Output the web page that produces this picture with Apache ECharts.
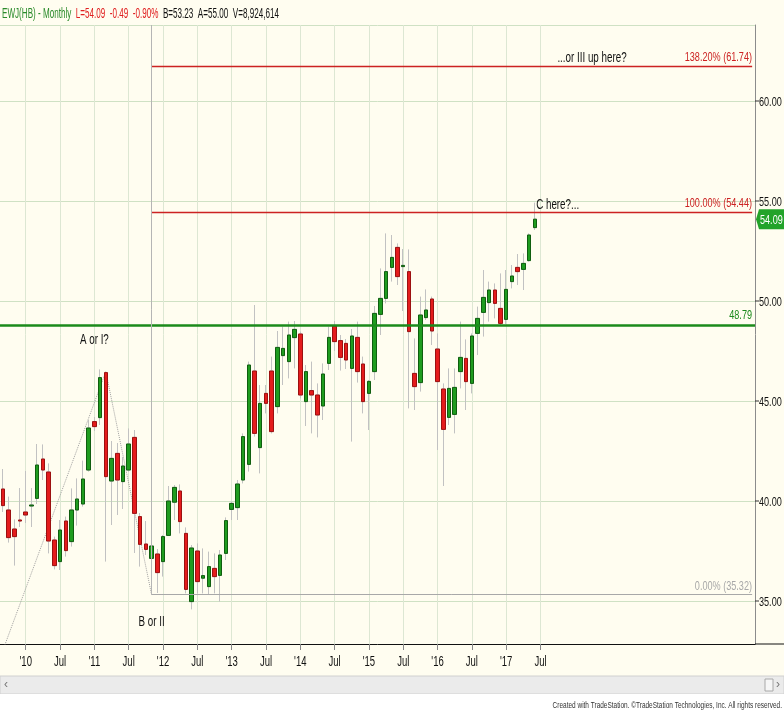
<!DOCTYPE html>
<html><head><meta charset="utf-8">
<script src="https://cdn.jsdelivr.net/npm/echarts@6/dist/echarts.min.js"></script>
<style>html,body{margin:0;padding:0;background:#fffdf0;}#c{width:784px;height:713px;}</style>
</head><body><div id="c"></div>
<script>
const FONT = "'Liberation Sans', Arial, sans-serif";
const SX = 0.7; // horizontal squeeze to mimic a narrow typeface

// Monthly EWJ candles, Sep 2009 .. Jun 2017
const startYear = 2009, startMonth = 9, totalMonths = 132;
const opens  = [40.60,39.55,38.60,39.05,39.45,39.75,40.13,42.10,41.45,38.05,36.97,39.00,37.97,39.55,39.85,41.55,43.97,44.17,46.42,41.00,42.38,40.97,41.55,43.18,39.22,37.85,37.13,37.35,36.97,38.28,39.94,40.50,38.38,34.97,37.50,36.14,35.72,36.63,36.28,37.38,39.58,39.67,41.05,41.83,46.50,42.67,45.38,46.50,44.72,47.27,46.97,48.17,48.35,44.97,45.52,45.30,44.75,46.88,48.75,48.02,47.88,46.63,48.18,46.85,45.38,46.47,49.33,50.13,51.68,52.68,51.72,51.47,46.38,45.92,49.17,50.10,47.60,45.60,44.18,44.33,46.47,47.13,45.88,48.38,49.43,49.92,50.55,49.63,49.08,50.97,51.68,51.58,52.02,53.67];
const closes = [39.77,38.17,38.22,39.00,39.30,39.80,41.80,41.55,38.00,36.77,38.55,37.52,39.55,40.10,41.10,43.65,43.72,46.17,41.22,42.13,41.05,41.75,42.85,39.38,37.83,37.58,37.75,36.42,38.22,40.00,40.68,38.97,35.58,37.65,35.97,36.27,36.72,36.22,37.30,39.02,39.88,40.85,43.22,46.80,43.38,44.88,44.88,43.47,47.68,47.63,48.30,48.58,45.30,46.47,45.30,44.30,46.35,48.18,47.97,47.18,47.05,48.25,46.47,44.97,45.98,49.38,50.13,51.47,52.18,51.22,51.78,48.47,45.72,49.30,49.55,48.50,45.97,43.58,45.63,45.68,47.18,45.97,48.25,49.13,50.18,50.55,49.88,48.88,50.58,51.25,51.47,51.88,53.30,54.09];
const lows   = [39.45,37.92,36.77,38.70,38.90,38.70,39.85,41.05,37.38,36.58,36.55,37.22,37.72,38.77,39.72,41.47,43.50,43.80,36.97,38.80,39.30,39.60,41.47,37.40,36.72,37.30,36.90,35.40,36.22,38.25,39.05,38.38,35.38,34.58,35.38,35.38,35.30,35.38,34.97,37.05,39.05,39.05,40.88,41.47,43.22,41.38,44.38,43.38,44.38,45.80,46.13,46.63,45.13,43.75,43.38,43.18,44.05,46.55,47.50,46.52,46.60,42.97,45.92,44.38,43.55,46.05,48.30,49.88,50.97,50.80,49.50,44.63,44.55,45.47,49.05,47.80,42.55,40.75,43.80,43.38,45.63,44.55,45.38,47.30,48.22,48.97,49.13,48.80,48.85,50.63,50.80,50.55,51.97,53.55];
const highs  = [41.60,40.22,39.08,40.65,41.50,40.65,42.85,42.83,41.88,38.22,39.05,39.22,40.63,41.13,42.02,44.05,44.20,46.58,46.47,43.00,42.90,42.20,43.63,43.55,39.40,39.00,38.00,37.60,38.30,40.75,40.80,40.83,38.68,37.80,37.88,37.63,37.47,37.38,37.55,39.18,39.97,41.05,43.38,46.97,49.80,45.80,45.80,47.22,48.50,48.72,48.97,49.00,48.47,46.80,46.97,45.88,46.88,48.72,49.00,48.30,48.10,48.60,48.97,47.22,46.05,49.75,51.63,53.38,53.30,52.88,52.60,52.58,48.13,50.22,50.58,50.22,48.38,45.88,46.63,46.63,48.97,48.08,48.38,49.72,51.55,50.97,50.88,51.38,51.55,51.80,52.35,52.38,53.38,54.92];

// Price axis ticks
const yTicks = [35, 40, 45, 50, 55, 60];

// Levels drawn on the chart
const fibStartMonth = '2011-11';
const fibPercents = ['138.20%', '100.00%', '0.00%'];
const fibValues   = [61.74, 54.44, 35.32];
const fibColors   = ['#cc2222', '#cc2222', '#a8a8a8'];
const supportLevel = 48.79;

// Elliott-wave dotted path (month, price)
const waveMonths = ['2009-09', '2011-03', '2011-11'];
const waveValues = [32.53, 46.47, 35.32];

// Text notes (month, price, text)
const noteMonths = ['2011-01', '2011-11', '2017-10', '2018-04'];
const noteValues = [48.05, 33.95, 54.80, 62.15];
const noteTexts  = ['A or I?', 'B or II', 'C here?...', '...or III up here?'];

// Header quote
const headerParts = [
  ['EWJ(HB) - Monthly', 'g'],
  ['L=54.09  -0.49  -0.90%', 'r'],
  ['B=53.23  A=55.00  V=8,924,614', 'k']
];

const yMin = 32.85, yMax = 63.8;

const categories = [];
for (let i = 0; i < totalMonths; i++) {
  const k = startMonth - 1 + i;
  categories.push((startYear + Math.floor(k / 12)) + '-' + String(k % 12 + 1).padStart(2, '0'));
}
const lastLabelIndex = opens.length; // Jul 2017
const isTickIdx = (i) => {
  if (i > lastLabelIndex) return false;
  const mo = categories[i].slice(5);
  return mo === '01' || mo === '07';
};
const lastClose = closes[closes.length - 1];

const wickData = opens.map((o, i) => [o, closes[i], lows[i], highs[i]]);
const bodyData = opens.map((o, i) => [o, closes[i], Math.min(o, closes[i]), Math.max(o, closes[i])]);
const ci = (m) => categories.indexOf(m);
const lastIdx = totalMonths - 1;

const fibLines = fibValues.map((v, i) => [
  { coord: [ci(fibStartMonth), v], lineStyle: { color: fibColors[i], width: i < 2 ? 1.3 : 1, type: 'solid' } },
  { coord: [lastIdx, v] }
]);
fibLines.push([
  { coord: [ci(fibStartMonth), yMax], lineStyle: { color: '#b5b5b5', width: 1, type: 'solid' } },
  { coord: [ci(fibStartMonth), fibValues[2]] }
]);

const chart = echarts.init(document.getElementById('c'), null, { renderer: 'canvas' });
chart.setOption({
  backgroundColor: '#fffdf0',
  animation: false,
  grid: { left: 0, right: 29, top: 25, bottom: 69, containLabel: false, outerBoundsMode: 'none' },
  xAxis: {
    type: 'category',
    data: categories,
    boundaryGap: true,
    axisLine: { lineStyle: { color: '#111', width: 1 } },
    axisTick: { show: true, alignWithLabel: true, interval: (i) => isTickIdx(i), length: 6, lineStyle: { color: '#888' } },
    axisLabel: { show: false },
    splitLine: { show: true, alignWithLabel: true, interval: (i) => isTickIdx(i), lineStyle: { color: '#dde7d3', width: 1 } }
  },
  yAxis: {
    type: 'value',
    position: 'right',
    min: yMin, max: yMax,
    minInterval: 5, maxInterval: 5,
    axisLine: { show: true, lineStyle: { color: '#8c8c8c' } },
    axisTick: { show: false },
    axisLabel: { show: false },
    splitLine: { show: true, lineStyle: { color: '#cfe1c4', width: 1 } }
  },
  series: [
    {
      name: 'wick', type: 'candlestick', data: wickData, barWidth: 4, z: 2,
      itemStyle: { color: 'transparent', color0: 'transparent', borderColor: '#c2c2c2', borderColor0: '#c2c2c2', borderWidth: 1 },
      markLine: {
        silent: true, symbol: ['none', 'none'], animation: false, label: { show: false },
        data: [
          { yAxis: supportLevel, lineStyle: { color: '#1b8a1b', width: 2.5, type: 'solid' } }
        ].concat(fibLines)
      }
    },
    {
      name: 'body', type: 'candlestick', data: bodyData, barWidth: 4, z: 3,
      itemStyle: { color: '#1f9c1f', color0: '#e41c1c', borderColor: '#0f5e0f', borderColor0: '#9c1010', borderWidth: 1 }
    },
    {
      name: 'wave', type: 'line', data: waveMonths.map((m, i) => [ci(m), waveValues[i]]),
      symbol: 'none', clip: true, z: 1,
      lineStyle: { color: '#a0a0a0', width: 1, type: 'dotted' }
    }
  ]
});

// ---- texts positioned through the chart's own scales ----
const P = (cat, val) => chart.convertToPixel({ gridIndex: 0 }, [cat, val]);
const txt = (x, y, text, opt, sx) => ({
  type: 'text', x: x, y: y, scaleX: sx || SX, z: 50, silent: true,
  style: Object.assign({ text: text, fill: '#111', fontSize: 13, fontFamily: FONT, align: 'left', verticalAlign: 'middle' }, opt || {})
});
const g = [];
const rightEdge = P(lastIdx, yMin)[0] + 2.86;
const bottomY = P(0, yMin)[1];

// header
g.push({
  type: 'text', x: 2, y: 14, scaleX: 0.54, z: 50, silent: true,
  style: {
    text: headerParts.map(p => '{' + p[1] + '|' + p[0] + '}').join('  '),
    fontFamily: FONT, fontSize: 15, verticalAlign: 'middle',
    rich: {
      g: { fill: '#2a8a2a', fontFamily: FONT, fontSize: 15 },
      r: { fill: '#e02020', fontFamily: FONT, fontSize: 15 },
      k: { fill: '#111', fontFamily: FONT, fontSize: 15 }
    }
  }
});

// bottom axis line continues under the price scale
g.push({ type: 'line', silent: true, z: 30, shape: { x1: rightEdge, y1: bottomY, x2: 784, y2: bottomY }, style: { stroke: '#111', lineWidth: 1 } });

// y axis labels with small ticks
yTicks.forEach(v => {
  const p = P(0, v);
  g.push({ type: 'line', shape: { x1: rightEdge, y1: p[1], x2: rightEdge + 4, y2: p[1] }, style: { stroke: '#333', lineWidth: 1 }, silent: true, z: 50 });
  g.push(txt(rightEdge + 4, p[1] + 1, v.toFixed(2), { fill: '#111' }));
});

// x axis labels
categories.forEach((c, i) => {
  if (!isTickIdx(i)) return;
  const p = P(i, yMin);
  const t = c.slice(5) === '01' ? "'" + c.slice(2, 4) : 'Jul';
  g.push(txt(p[0], p[1] + 18, t, { align: 'center', fontSize: 14 }, 0.68));
});

// level labels
fibValues.forEach((v, i) => {
  const p = P(lastIdx, v);
  g.push(txt(rightEdge - 3, p[1] - 2, fibPercents[i] + ' (' + v.toFixed(2) + ')', { fill: fibColors[i], align: 'right', verticalAlign: 'bottom' }));
});
{
  const p = P(lastIdx, supportLevel);
  g.push(txt(rightEdge - 3, p[1] - 3, supportLevel.toFixed(2), { fill: '#1b8a1b', align: 'right', verticalAlign: 'bottom' }));
}

// notes
noteTexts.forEach((t, i) => {
  const p = P(ci(noteMonths[i]), noteValues[i]);
  g.push(txt(p[0], p[1], t, { align: 'center', fontSize: 14 }));
});

// last price tag
{
  const p = P(lastIdx, lastClose);
  const x0 = rightEdge, y = p[1];
  g.push({ type: 'polygon', z: 60, silent: true, shape: { points: [[x0 + 1, y], [x0 + 4, y - 10], [784, y - 10], [784, y + 10], [x0 + 4, y + 10]] }, style: { fill: '#22a32a' } });
  g.push(Object.assign(txt(x0 + 5, y + 1, lastClose.toFixed(2), { fill: '#ffffff' }), { z: 61 }));
}

// bottom scrollbar & credit
g.push({ type: 'rect', silent: true, z: 40, shape: { x: 0, y: 676, width: 784, height: 18 }, style: { fill: '#ebebeb', stroke: '#d0d0d0' } });
g.push({ type: 'text', silent: true, z: 41, x: 4, y: 685, style: { text: '‹', fill: '#777', fontSize: 12, verticalAlign: 'middle' } });
g.push({ type: 'rect', silent: true, z: 41, shape: { x: 765, y: 679, width: 8, height: 12 }, style: { fill: '#f6f6f6', stroke: '#a8a8a8' } });
g.push({ type: 'text', silent: true, z: 41, x: 776, y: 685, style: { text: '›', fill: '#777', fontSize: 12, verticalAlign: 'middle' } });
g.push({ type: 'rect', silent: true, z: 40, shape: { x: 0, y: 694, width: 784, height: 19 }, style: { fill: '#ffffff' } });
g.push({ type: 'text', silent: true, z: 41, x: 782, y: 706, scaleX: 0.72,
  style: { text: 'Created with TradeStation. ©TradeStation Technologies, Inc. All rights reserved.', fill: '#333', fontSize: 9, fontFamily: FONT, align: 'right', verticalAlign: 'middle' } });

chart.setOption({ graphic: g });
</script></body></html>
